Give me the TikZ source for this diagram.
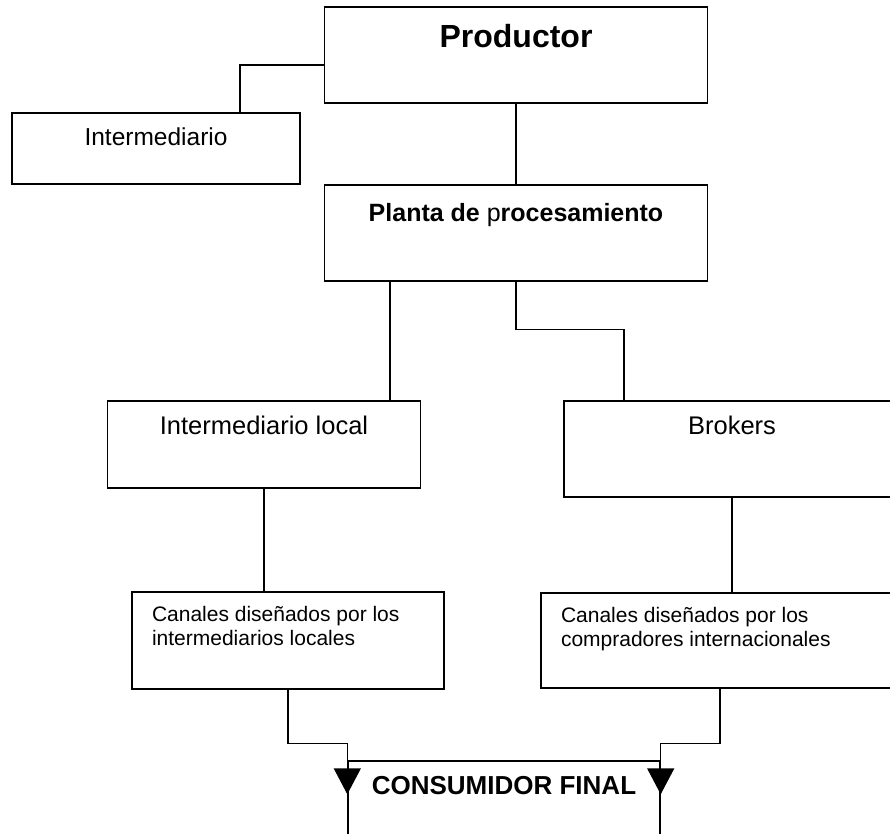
\documentclass[tikz,border=0pt]{standalone}
\usepackage{fontspec}
\setmainfont{Liberation Sans}
\usetikzlibrary{arrows.meta, positioning}

\begin{document}
\begin{tikzpicture}[x=1pt, y=-1pt, line width=1.4pt,
    caja/.style={draw, rectangle, inner sep=0pt},
    texto/.style={anchor=base, inner sep=0pt},
    flecha/.style={-{Triangle[length=26pt,width=27pt]}}]
  \path[use as bounding box, clip] (0,0) rectangle (890,833);
  % cajas
  \node [caja, minimum width=383pt, minimum height=96pt] (prod) at (516,55) {};
  \node [caja, minimum width=288pt, minimum height=71pt] (inter) at (156,148.5) {};
  \node [caja, minimum width=383pt, minimum height=96pt] (planta) at (516,233) {};
  \node [caja, minimum width=313pt, minimum height=87pt] (ilocal) at (264,444.5) {};
  \node [caja, minimum width=336pt, minimum height=96pt] (brokers) at (732,449) {};
  \node [caja, minimum width=312pt, minimum height=97pt] (cloc) at (288,640.5) {};
  \node [caja, minimum width=358pt, minimum height=95pt] (cint) at (720,640.5) {};
  \node [caja, minimum width=312pt, minimum height=96pt] (cons) at (504,809) {};
  % textos
  \node [texto, font=\fontsize{32}{38}\selectfont\bfseries] (tprod) at ([yshift=-41pt]prod.north) {Productor};
  \node [texto, font=\fontsize{24.5}{29}\selectfont] (tinter) at ([yshift=-33pt]inter.north) {Intermediario};
  \node [texto, font=\fontsize{25}{30}\selectfont] (tplanta) at ([yshift=-37pt]planta.north) {{\bfseries Planta de }p{\bfseries rocesamiento}};
  \node [texto, font=\fontsize{25.5}{30}\selectfont] (tilocal) at ([yshift=-34pt]ilocal.north) {Intermediario local};
  \node [texto, font=\fontsize{25.5}{30}\selectfont] (tbrokers) at ([yshift=-34pt]brokers.north) {Brokers};
  \node [texto, anchor=base west, align=left, font=\fontsize{21}{24}\selectfont] (tcloc) at ([xshift=20pt,yshift=-54pt]cloc.north west) {Canales diseñados por los\\intermediarios locales};
  \node [texto, anchor=base west, align=left, font=\fontsize{21}{24}\selectfont] (tcint) at ([xshift=20pt,yshift=-54pt]cint.north west) {Canales diseñados por los\\compradores internacionales};
  \node [texto, font=\fontsize{26}{31}\selectfont\bfseries] (tcons) at ([yshift=-34pt]cons.north) {CONSUMIDOR FINAL};
  % conectores
  \draw ([yshift=-10pt]prod.west) -| ([xshift=84pt]inter.north);
  \draw (prod.south) -- (planta.north);
  \draw ([xshift=-126pt]planta.south) -- ([xshift=-126pt]planta.south |- ilocal.north);
  \draw (planta.south) -- ++(0,48) -| ([xshift=-108pt]brokers.north);
  \draw (ilocal.south) -- (ilocal.south |- cloc.north);
  \draw (brokers.south) -- (brokers.south |- cint.north);
  \draw [flecha] (cloc.south) -- ++(0,54) -| ([yshift=-34pt]cons.north west);
  \draw [flecha] (cint.south) -- ++(0,55) -| ([yshift=-34pt]cons.north east);
\end{tikzpicture}
\end{document}
